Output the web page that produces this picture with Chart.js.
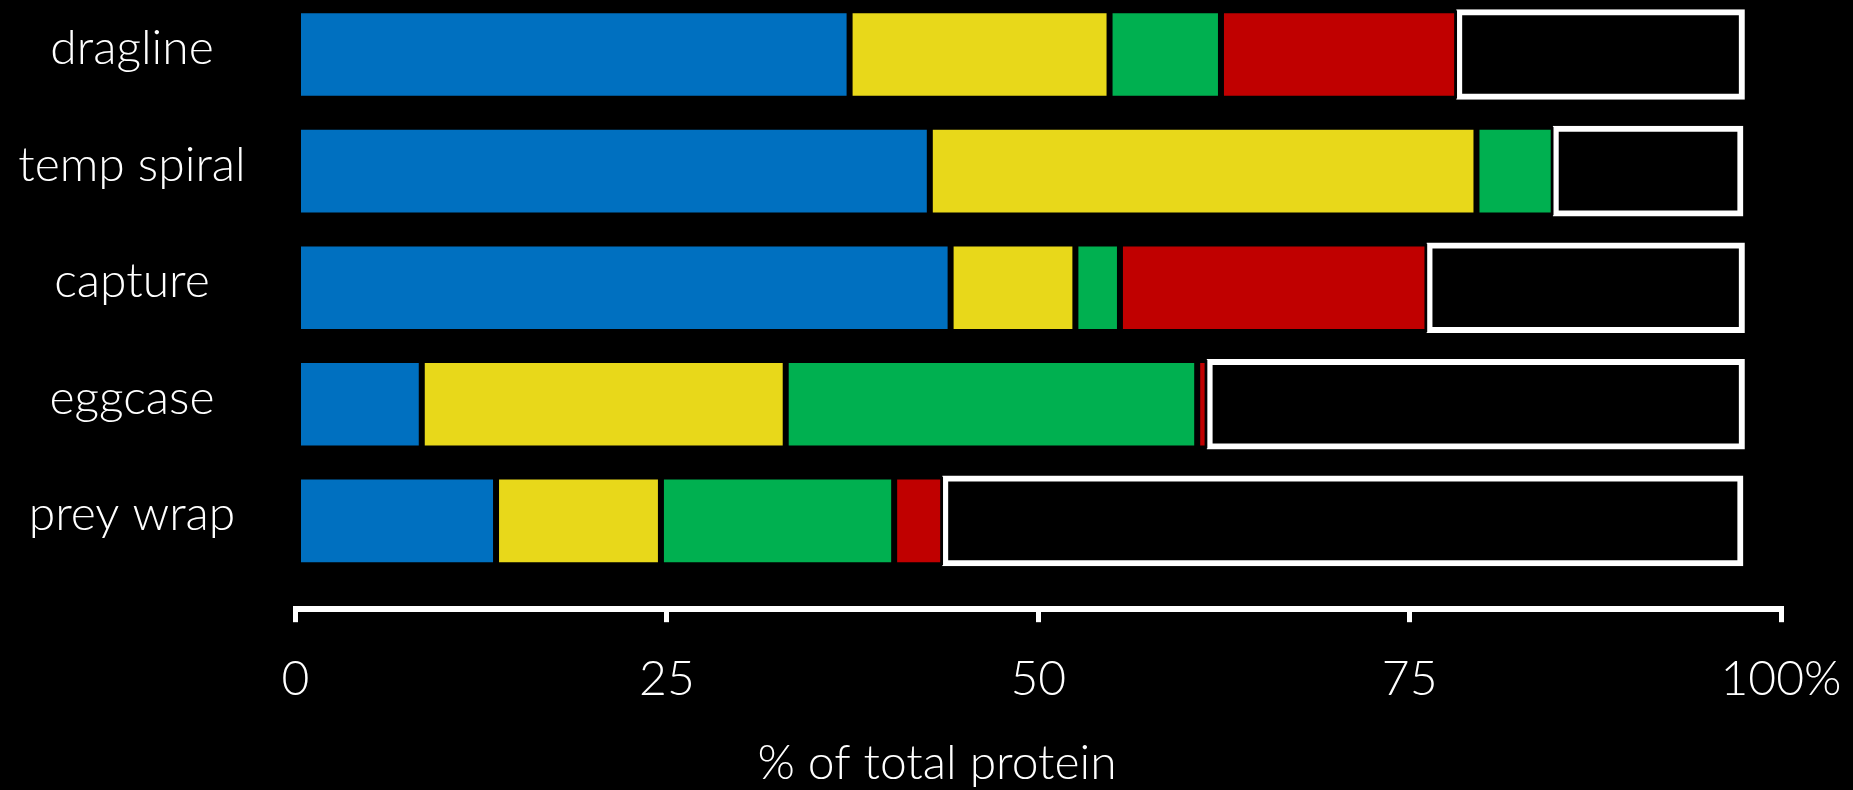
<!DOCTYPE html>
<html>
<head>
<meta charset="utf-8">
<script src="https://cdn.jsdelivr.net/npm/chart.js@4.4.0/dist/chart.umd.min.js"></script>
<style>
  html, body { margin: 0; padding: 0; background: #000; }
  #wrap { position: relative; width: 1853px; height: 790px; }
</style>
</head>
<body>
<div id="wrap"><canvas id="chart"></canvas></div>
<script>
// silk types, top to bottom
const categories = ['dragline', 'temp spiral', 'capture', 'eggcase', 'prey wrap'];

// % of total protein per group
const blueVals   = [37.3, 42.7, 44.1,  8.5, 13.5];
const yellowVals = [17.5, 36.8,  8.4, 24.5, 11.1];
const greenVals  = [ 7.5,  5.2,  3.0, 27.7, 15.7];
const redVals    = [15.9,  0.0, 20.7,  0.7,  3.3];
const otherVals  = [19.3, 12.7, 21.3, 36.1, 53.8];

const xTicks = [0, 25, 50, 75, 100];

const FONT = 'Lato';
const textColor = '#FFFFFF';

// centre the category labels in the left margin
const m = document.createElement('canvas').getContext('2d');
m.font = `300 48px ${FONT}`;
const widest = Math.max(...categories.map(c => m.measureText(c).width));
const yPad = Math.max(0, 163.5 - widest / 2);

const toPoints = vals => vals.map((v, i) => ({ x: v, y: i }));

const colored = (label, vals, color) => ({
  label,
  data: toPoints(vals),
  backgroundColor: color,
  borderColor: '#000000',
  borderWidth: 3,
  borderSkipped: false,
  inflateAmount: 0,
});

// labels sit partly in the layout padding, so don't clip them to the axis box
const unclipLabels = {
  id: 'unclipLabels',
  afterLayout(chart) { chart.scales.y.left = 0; },
};

new Chart(document.getElementById('chart'), {
  type: 'bar',
  data: {
    datasets: [
      colored('blue', blueVals, '#0070C0'),
      colored('yellow', yellowVals, '#E8D81A'),
      colored('green', greenVals, '#00B050'),
      colored('red', redVals, '#C00000'),
      {
        label: 'other',
        data: toPoints(otherVals),
        backgroundColor: '#000000',
        borderColor: '#FFFFFF',
        borderWidth: 6,
        borderSkipped: false,
        inflateAmount: 1,
      },
    ],
  },
  plugins: [unclipLabels],
  options: {
    indexAxis: 'y',
    responsive: true,
    maintainAspectRatio: false,
    animation: false,
    layout: { padding: { left: 93, right: 72, top: 0, bottom: 0 } },
    datasets: { bar: { categoryPercentage: 1, barPercentage: 0.76 } },
    plugins: {
      legend: { display: false },
      tooltip: { enabled: false },
      title: {
        display: true,
        position: 'bottom',
        text: '% of total protein',
        color: textColor,
        font: { family: FONT, size: 48, weight: '300', lineHeight: 1.1 },
        padding: { top: 29, bottom: 0 },
      },
    },
    scales: {
      x: {
        type: 'linear',
        stacked: true,
        min: 0,
        max: 100,
        afterBuildTicks: s => { s.ticks = xTicks.map(v => ({ value: v })); },
        afterFit: s => { s.height = 99; s.paddingLeft = 0; s.paddingRight = 0; },
        grid: { drawOnChartArea: false, drawTicks: true, tickLength: 13, color: '#FFFFFF', lineWidth: 5 },
        border: { display: true, color: '#FFFFFF', width: 6 },
        ticks: {
          color: textColor,
          padding: 29,
          maxRotation: 0,
          font: { family: FONT, size: 48, weight: '300', lineHeight: 1.2 },
          callback: v => (v === 100 ? '100%' : v),
        },
      },
      y: {
        type: 'linear',
        stacked: true,
        reverse: true,
        offset: false,
        min: -0.467,
        max: 4.757,
        afterBuildTicks: s => { s.ticks = categories.map((c, i) => ({ value: i })); },
        afterFit: s => { s.width = 202.5; s.paddingTop = 0; s.paddingBottom = 0; },
        grid: { display: false, drawTicks: false, offset: false },
        border: { display: false },
        ticks: {
          color: textColor,
          crossAlign: 'center',
          padding: yPad,
          labelOffset: -6,
          font: { family: FONT, size: 48, weight: '300', lineHeight: 1.2 },
          callback: v => categories[v] ?? '',
        },
      },
    },
  },
});
</script>
</body>
</html>
